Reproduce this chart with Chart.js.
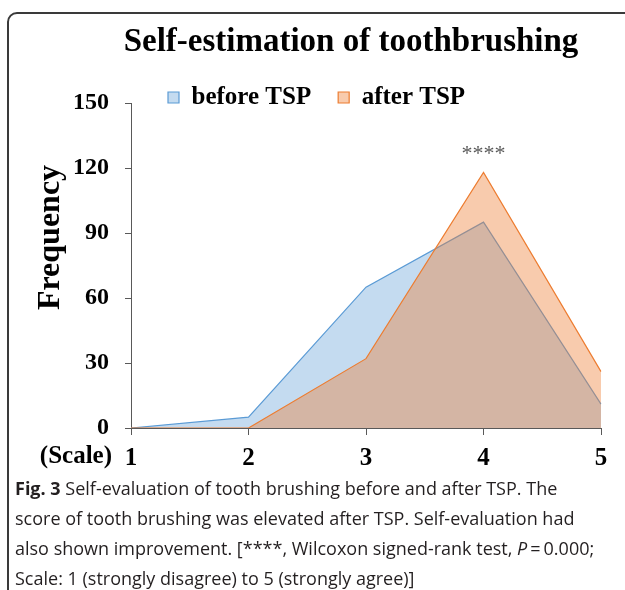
<!DOCTYPE html>
<html><head><meta charset="utf-8">
<script src="https://cdn.jsdelivr.net/npm/chart.js@4.4.0/dist/chart.umd.min.js"></script>
<style>
html,body{margin:0;padding:0;background:#fff;width:625px;height:590px;overflow:hidden;position:relative;}
#frame{position:absolute;left:7px;top:12px;width:640px;height:600px;border:2px solid #3a3a3a;border-top-left-radius:10px;box-sizing:border-box;}
#wrap{position:absolute;left:0;top:0;width:625px;height:475px;}
#cap{position:absolute;left:15px;top:473px;font-family:"Open Sans",Lato,sans-serif;font-size:18px;line-height:30px;color:#231f20;white-space:nowrap;}
</style></head><body>
<div id="frame"></div>
<div id="wrap"><canvas id="c" width="625" height="475"></canvas></div>
<div id="cap"><b>Fig. 3</b> Self-evaluation of tooth brushing before and after TSP. The<br>score of tooth brushing was elevated after TSP. Self-evaluation had<br>also shown improvement. [****, Wilcoxon signed-rank test, <i>P</i>&#8201;=&#8201;0.000;<br>Scale: 1 (strongly disagree) to 5 (strongly agree)]</div>
<script>
const categories = ['1', '2', '3', '4', '5'];
const beforeTSP = [0, 5, 65, 95, 11];
const afterTSP = [0, 0, 32, 118, 26];
const yTicks = [0, 30, 60, 90, 120, 150];
const seriesNames = ['before TSP', 'after TSP'];
const chartTitle = 'Self-estimation of toothbrushing';
const yTitle = 'Frequency';
const xLead = '(Scale)';
const sigMark = '****';

const SERIF = '"Liberation Serif", "Times New Roman", serif';
const AXIS = '#595959';

const extras = {
  id: 'extras',
  afterLayout(chart) {
    const t = chart.titleBlock;
    if (t) { t.left = 101; t.right = 601; t.width = 500; }
    const lg = chart.legend;
    if (lg) {
      const pad = lg.options.labels.padding;
      const fs = lg.options.labels.font.size;
      lg.left = 168 - pad; lg.right = 620; lg.width = lg.right - lg.left;
      lg.top = 97.5 - pad - fs / 2;
      lg.bottom = lg.top + pad + fs + 12; lg.height = lg.bottom - lg.top;
    }
  },
  afterDraw(chart) {
    const ctx = chart.ctx;
    const xs = chart.scales.x, ys = chart.scales.y;
    const ca = chart.chartArea;
    ctx.save();
    ctx.fillStyle = '#595959';
    ctx.font = '22px ' + SERIF;
    ctx.textAlign = 'center';
    ctx.textBaseline = 'alphabetic';
    ctx.fillText(sigMark, xs.getPixelForValue(3), ys.getPixelForValue(afterTSP[3]) - 12);
    ctx.fillStyle = '#000';
    ctx.font = 'bold 25px ' + SERIF;
    ctx.textAlign = 'right';
    ctx.textBaseline = 'middle';
    ctx.fillText(xLead, 112, ca.bottom + 29);
    ctx.translate(51, (ca.top + ca.bottom) / 2 - 28);
    ctx.rotate(-Math.PI / 2);
    ctx.textAlign = 'center';
    ctx.font = 'bold 32px ' + SERIF;
    ctx.fillText(yTitle, 0, 0);
    ctx.restore();
  }
};

new Chart(document.getElementById('c'), {
  type: 'line',
  data: {
    labels: categories,
    datasets: [
      { label: seriesNames[0], data: beforeTSP, borderColor: '#5B9BD5', backgroundColor: 'rgba(91,155,213,0.36)', borderWidth: 1.2, fill: 'origin', pointRadius: 0, tension: 0, order: 2 },
      { label: seriesNames[1], data: afterTSP, borderColor: '#ED7D31', backgroundColor: 'rgba(237,125,49,0.4)', borderWidth: 1.2, fill: 'origin', pointRadius: 0, tension: 0, order: 1 }
    ]
  },
  options: {
    responsive: false,
    devicePixelRatio: 1,
    animation: false,
    layout: { padding: { left: 0, right: 24, top: 0, bottom: 0 } },
    plugins: {
      title: { display: true, text: chartTitle, color: '#000', font: { family: SERIF, size: 33, weight: 'bold' }, padding: { top: 23, bottom: 39.4 } },
      legend: {
        display: true, position: 'top', align: 'start', maxHeight: 1,
        labels: { color: '#000', font: { family: SERIF, size: 25, weight: 'bold' }, boxWidth: 11, boxHeight: 11, padding: 27, sort: (a, b) => a.datasetIndex - b.datasetIndex }
      },
      tooltip: { enabled: false }
    },
    scales: {
      x: {
        type: 'category', offset: false,
        grid: { drawOnChartArea: false, drawTicks: true, tickLength: 7, color: AXIS },
        border: { color: AXIS, width: 1 },
        ticks: { color: '#000', font: { family: SERIF, size: 25, weight: 'bold' }, padding: 9, maxRotation: 0 },
        afterFit(s) { s.height = 47; }
      },
      y: {
        min: 0, max: 150,
        afterBuildTicks(s) { s.ticks = yTicks.map(v => ({ value: v })); },
        grid: { drawOnChartArea: false, drawTicks: true, tickLength: 6, color: AXIS },
        border: { color: AXIS, width: 1 },
        ticks: { color: '#000', font: { family: SERIF, size: 24, weight: 'bold' }, padding: 16 },
        afterFit(s) { s.width = 131; }
      }
    }
  },
  plugins: [extras]
});
</script>
</body></html>
